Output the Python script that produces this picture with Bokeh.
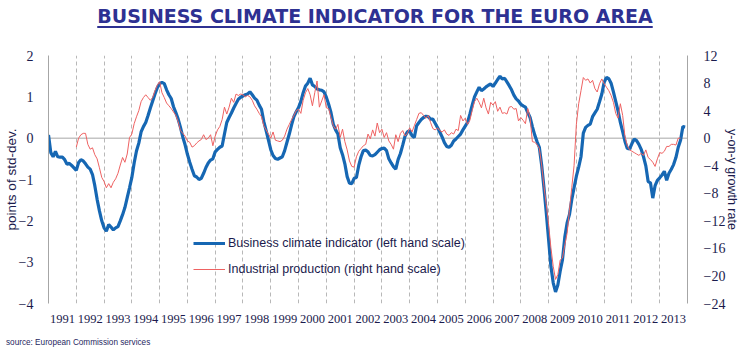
from bokeh.plotting import figure
from bokeh.models import Range1d, LinearAxis, FixedTicker, Span, Legend, LegendItem, Div
from bokeh.layouts import column
from bokeh.embed import file_html
from bokeh.resources import INLINE
import pandas as pd

# Business climate indicator (points of std-dev., monthly from Jan 1991)
business_climate = [
    0.08, -0.35, -0.45, -0.32, -0.45, -0.46, -0.46, -0.52, -0.63, -0.61, -0.66, -0.72,
    -0.78, -0.59, -0.52, -0.55, -0.62, -0.70, -0.75, -0.88, -1.15, -1.48, -1.76, -2.00,
    -2.17, -2.25, -2.09, -2.15, -2.22, -2.17, -2.14, -2.00, -1.85, -1.68, -1.44, -1.20,
    -0.95, -0.60, -0.31, -0.12, 0.15, 0.28, 0.38, 0.55, 0.73, 0.90, 1.07, 1.22,
    1.32, 1.35, 1.32, 1.17, 1.05, 0.96, 0.76, 0.62, 0.46, 0.26, 0.03, -0.16,
    -0.39, -0.58, -0.75, -0.91, -0.94, -1.00, -0.97, -0.85, -0.71, -0.60, -0.53, -0.50,
    -0.33, -0.27, -0.22, -0.19, 0.10, 0.38, 0.50, 0.61, 0.73, 0.84, 0.94, 0.99,
    1.02, 1.05, 1.07, 1.12, 1.05, 0.97, 0.92, 0.80, 0.70, 0.40, 0.18, -0.05,
    -0.28, -0.42, -0.49, -0.51, -0.48, -0.45, -0.30, -0.10, 0.10, 0.32, 0.52, 0.64,
    0.74, 0.89, 1.10, 1.26, 1.33, 1.45, 1.29, 1.25, 1.19, 1.17, 1.16, 1.12,
    0.99, 0.82, 0.62, 0.34, 0.20, 0.10, -0.23, -0.40, -0.62, -0.93, -1.09, -1.10,
    -0.97, -0.95, -0.66, -0.45, -0.30, -0.29, -0.33, -0.42, -0.43, -0.40, -0.34, -0.28,
    -0.25, -0.24, -0.30, -0.50, -0.60, -0.69, -0.75, -0.52, -0.37, -0.17, 0.05, 0.15,
    0.18, 0.06, 0.02, 0.30, 0.38, 0.45, 0.50, 0.53, 0.52, 0.46, 0.46, 0.36,
    0.26, 0.15, 0.03, -0.11, -0.20, -0.22, -0.17, -0.07, -0.02, 0.04, 0.10, 0.20,
    0.29, 0.38, 0.58, 0.80, 1.00, 1.12, 1.23, 1.15, 1.19, 1.24, 1.28, 1.31,
    1.25, 1.33, 1.42, 1.50, 1.43, 1.45, 1.36, 1.27, 1.17, 1.04, 0.95, 0.90,
    0.82, 0.78, 0.75, 0.62, 0.50, 0.28, 0.08, -0.08, -0.22, -0.65, -1.20, -1.80,
    -2.45, -3.10, -3.50, -3.72, -3.55, -3.22, -2.94, -2.40, -2.05, -1.85, -1.49, -1.20,
    -0.92, -0.70, -0.45, 0.12, 0.26, 0.31, 0.34, 0.52, 0.61, 0.70, 0.88, 1.07,
    1.35, 1.47, 1.44, 1.33, 1.12, 0.89, 0.66, 0.38, 0.16, -0.08, -0.25, -0.26,
    -0.13, -0.02, -0.06, -0.15, -0.27, -0.45, -0.67, -1.05, -1.08, -1.45, -1.15, -1.02,
    -0.96, -0.89, -0.80, -1.02, -0.85, -0.75, -0.64, -0.47, -0.22, -0.05, 0.28, 0.27,
]

# Industrial production (y-on-y growth rate, %, monthly from Jan 1992)
industrial_production = [
    -1.3, 0.0, 0.5, 0.7, 0.7, -0.9, -1.6, -1.4, -2.4, -3.0, -4.3, -5.7,
    -6.3, -7.2, -6.6, -7.2, -6.4, -5.9, -5.1, -3.9, -2.8, -3.5, -2.3, 0.1,
    0.6, 2.1, 3.1, 4.0, 5.3, 5.9, 6.3, 5.9, 5.5, 5.9, 6.9, 7.7,
    8.2, 6.6, 5.9, 5.1, 4.7, 4.3, 3.8, 3.3, 2.4, 1.1, 0.7, 0.3,
    -0.4, -0.6, -1.3, -1.1, -0.7, -0.4, -0.2, 0.5, -0.2, 0.0, 0.5, -1.1,
    0.3, 1.2, 1.7, 2.7, 4.5, 3.5, 4.5, 5.8, 5.2, 6.4, 6.2, 6.4,
    6.3, 6.0, 6.2, 6.0, 5.5, 4.7, 4.2, 3.6, 3.1, 1.8, 1.2, 0.6,
    0.0, 0.9, -0.3, -0.4, -0.5, -0.3, 0.3, 1.3, 2.0, 2.7, 3.3, 4.0,
    4.2, 3.6, 5.5, 6.6, 7.2, 6.3, 4.7, 6.6, 8.3, 4.5, 5.4, 6.3,
    4.4, 4.3, 3.0, 1.8, 1.3, 2.0, 0.1, 1.3, -0.5, -1.7, -3.3, -4.1,
    -4.2, -2.7, -1.9, -1.5, -1.1, -0.9, 0.6, -0.1, 1.2, 0.3, 2.2, 0.8,
    1.3, 0.1, 0.8, -0.4, -0.9, -1.6, 0.5, -0.5, 0.7, 1.1, 0.3, 0.7,
    1.5, 0.9, 1.8, 2.7, 3.6, 3.7, 3.3, 2.9, 3.3, 2.3, 1.4, 1.2,
    1.5, 1.1, 0.9, 1.2, 0.6, 0.4, 0.8, 0.6, 1.3, 1.1, 3.3, 2.5,
    2.9, 2.0, 2.6, 4.0, 5.3, 5.8, 5.2, 4.4, 5.8, 4.4, 3.5, 5.2,
    4.8, 5.3, 3.9, 4.5, 3.6, 3.7, 3.5, 4.5, 4.6, 4.2, 4.3, 2.5,
    3.0, 2.6, 2.1, 4.3, 3.0, -0.5, -0.6, -0.9, -1.5, -3.9, -7.0, -9.6,
    -12.5, -15.9, -18.6, -20.5, -19.8, -17.7, -17.4, -15.5, -13.8, -10.5, -7.2, -4.0,
    2.0, 5.0, 6.9, 8.8, 8.4, 8.6, 8.0, 8.4, 7.2, 6.7, 7.9, 8.6,
    7.9, 7.4, 6.9, 6.2, 5.2, 3.6, 2.9, 5.0, 3.3, 0.2, -1.1, -1.7,
    -1.9, -2.1, -2.3, -2.5, -2.2, -2.5, -1.7, -2.8, -3.1, -3.5, -4.1, -3.0,
    -2.1, -2.2, -1.9, -1.2, -1.2, -0.9, -0.9, -1.0, 0.0, 0.0,
]

years = list(range(1991, 2014))
year_labels = [str(y) for y in years]
left_ticks = [-4, -3, -2, -1, 0, 1, 2]
right_ticks = [-24, -20, -16, -12, -8, -4, 0, 4, 8, 12]

dates_bci = pd.date_range("1991-01-01", periods=len(business_climate), freq="MS")
dates_ip = pd.date_range("1992-01-01", periods=len(industrial_production), freq="MS")
t_bci = [d.year + (d.month - 1) / 12 for d in dates_bci]
t_ip = [d.year + (d.month - 1) / 12 for d in dates_ip]

NAVY = "#1b1b4d"
GRAY = "#a6a6a6"
TICK_FONT = "Liberation Sans Narrow"

p = figure(width=742, height=293, x_range=Range1d(1991, 2014), y_range=Range1d(-4, 2),
           output_backend="svg", toolbar_location=None,
           min_border_top=15, min_border_bottom=30, min_border_left=48, min_border_right=54)
p.outline_line_color = None
p.background_fill_color = "white"
p.border_fill_color = "white"

# x axis: labels centred in each year, dashed lines at year boundaries
p.xaxis.ticker = FixedTicker(ticks=[y + 0.5 for y in years])
p.xaxis.major_label_overrides = {y + 0.5: lab for y, lab in zip(years, year_labels)}
p.xaxis.axis_line_color = None
p.xaxis.major_tick_line_color = None
p.xaxis.minor_tick_line_color = None
p.xaxis.major_tick_out = 0
p.xaxis.major_tick_in = 0
p.xaxis.major_label_standoff = 11
p.xaxis.major_label_text_font = TICK_FONT
p.xaxis.major_label_text_font_size = "12.5px"
p.xaxis.major_label_text_color = NAVY

p.xgrid.ticker = FixedTicker(ticks=years[1:])
p.xgrid.grid_line_color = "#b8b8b8"
p.xgrid.grid_line_dash = "4 3"
p.xgrid.grid_line_width = 1
p.ygrid.visible = False

# left axis
p.yaxis.ticker = FixedTicker(ticks=left_ticks)
p.yaxis.axis_line_color = GRAY
p.yaxis.major_tick_line_color = None
p.yaxis.minor_tick_line_color = None
p.yaxis.major_tick_out = 0
p.yaxis.major_tick_in = 0
p.yaxis.major_label_standoff = 15
p.yaxis.major_label_text_font = TICK_FONT
p.yaxis.major_label_text_font_size = "14px"
p.yaxis.major_label_text_color = NAVY
p.yaxis.axis_label = "points of std-dev."
p.yaxis.axis_label_text_font = "Liberation Sans"
p.yaxis.axis_label_text_font_size = "13.5px"
p.yaxis.axis_label_text_font_style = "normal"
p.yaxis.axis_label_text_color = NAVY
p.yaxis.axis_label_standoff = -3

# right axis
p.extra_y_ranges = {"right": Range1d(-24, 12)}
right_axis = LinearAxis(y_range_name="right", ticker=FixedTicker(ticks=right_ticks),
                        axis_label="y-on-y growth rate")
right_axis.axis_line_color = GRAY
right_axis.major_tick_line_color = None
right_axis.minor_tick_line_color = None
right_axis.major_tick_out = 0
right_axis.major_tick_in = 0
right_axis.major_label_standoff = 16
right_axis.major_label_text_font = TICK_FONT
right_axis.major_label_text_font_size = "14px"
right_axis.major_label_text_color = NAVY
right_axis.axis_label_text_font = "Liberation Sans"
right_axis.axis_label_text_font_size = "12.5px"
right_axis.axis_label_text_font_style = "normal"
right_axis.axis_label_text_color = NAVY
right_axis.axis_label_standoff = -3
p.add_layout(right_axis, "right")

p.add_layout(Span(location=0, dimension="width", line_color=GRAY, line_width=1, level="underlay"))

blue = p.line(t_bci, business_climate, line_color="#1667b3", line_width=3.2)
red = p.line(t_ip, industrial_production, y_range_name="right", line_color="#ee6262", line_width=1)

legend = Legend(items=[
    LegendItem(label="Business climate indicator (left hand scale)", renderers=[blue]),
    LegendItem(label="Industrial production (right hand scale)", renderers=[red]),
], location=(145, 24))
legend.label_text_font = "Liberation Sans"
legend.label_text_font_size = "12.5px"
legend.label_text_color = NAVY
legend.glyph_width = 32
legend.glyph_height = 20
legend.label_height = 20
legend.spacing = 6
legend.padding = 0
legend.margin = 0
legend.label_standoff = 3
legend.border_line_color = None
legend.background_fill_alpha = 0
p.add_layout(legend)

title_div = Div(
    text=('<div style="width:742px; box-sizing:border-box; font-family:\'DejaVu Sans\'; '
          'font-weight:bold; font-size:19px; color:#2e3192; text-align:center; '
          'padding-top:5px; padding-left:8px; '
          'text-decoration:underline; text-decoration-thickness:2px; text-underline-offset:3px; '
          'white-space:nowrap; line-height:normal;">BUSINESS CLIMATE INDICATOR FOR THE EURO AREA</div>'),
    width=742, height=40, margin=0)

source_div = Div(
    text=('<div style="font-family:\'Liberation Sans\'; font-size:8.2px; color:#1f1f5f; '
          'padding-top:4px; padding-left:6px; white-space:nowrap; line-height:normal;">'
          'source: European Commission services</div>'),
    width=742, height=18, margin=0)

layout = column(title_div, p, source_div, spacing=0, margin=0)

open("out.html", "w").write(file_html(layout, INLINE))
